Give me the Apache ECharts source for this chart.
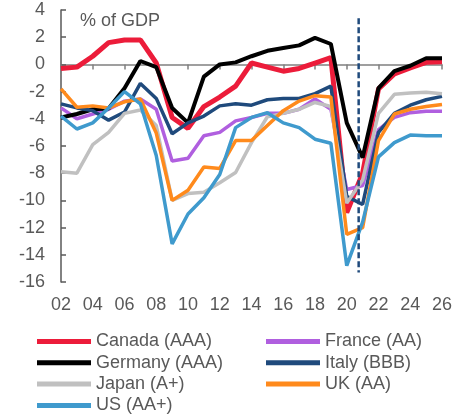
<!DOCTYPE html>
<html>
<head>
<meta charset="utf-8">
<script src="https://cdn.jsdelivr.net/npm/echarts@6/dist/echarts.min.js"></script>
<style>
  html, body { margin: 0; padding: 0; background: #ffffff; }
  #chart { width: 468px; height: 417px; }
</style>
</head>
<body>
<div id="chart"></div>
<script>
// General government balance, % of GDP (2002-2026)
const years = [2002, 2003, 2004, 2005, 2006, 2007, 2008, 2009, 2010, 2011, 2012, 2013,
               2014, 2015, 2016, 2017, 2018, 2019, 2020, 2021, 2022, 2023, 2024, 2025, 2026];

const canada  = [-0.3, -0.2, 0.6, 1.6, 1.8, 1.8, 0.1, -3.9, -4.7, -3.1, -2.4, -1.6,
                 0.1, -0.2, -0.5, -0.3, 0.1, 0.5, -10.9, -8.0, -1.8, -0.7, -0.25, 0.15, 0.2];
const france  = [-3.2, -4.0, -3.65, -3.3, -2.7, -2.55, -3.3, -7.1, -6.9, -5.25, -5.0, -4.15,
                 -3.9, -3.6, -3.6, -3.3, -2.55, -3.3, -9.2, -8.9, -4.8, -3.9, -3.55, -3.45, -3.45];
const germany = [-3.9, -3.65, -3.3, -3.25, -1.75, 0.25, -0.2, -3.2, -4.3, -0.9, 0.0, 0.15,
                 0.6, 1.0, 1.2, 1.4, 1.95, 1.5, -4.3, -6.85, -1.75, -0.5, -0.1, 0.45, 0.45];
const italy   = [-2.9, -3.2, -3.4, -4.1, -3.5, -1.4, -2.5, -5.1, -4.3, -3.8, -3.05, -2.9,
                 -3.0, -2.6, -2.5, -2.5, -2.15, -1.6, -9.7, -10.3, -5.0, -3.6, -3.0, -2.6, -2.35];
const japan   = [-7.9, -8.0, -5.9, -5.0, -3.6, -3.35, -4.5, -10.0, -9.5, -9.4, -8.7, -7.95,
                 -5.75, -3.85, -3.6, -3.3, -2.8, -3.1, -10.2, -8.5, -3.6, -2.2, -2.1, -2.05, -2.15];
const uk      = [-1.8, -3.15, -3.05, -3.2, -2.75, -2.55, -5.05, -10.0, -9.25, -7.55, -7.65, -5.6,
                 -5.6, -4.5, -3.4, -2.7, -2.3, -2.4, -12.5, -12.0, -5.6, -3.65, -3.3, -3.1, -2.95];
const us      = [-3.8, -4.75, -4.3, -3.2, -2.0, -2.9, -6.7, -13.2, -11.0, -9.8, -8.1, -4.65,
                 -3.9, -3.55, -4.3, -4.65, -5.5, -5.8, -14.8, -11.6, -6.8, -5.75, -5.2, -5.25, -5.25];

// Projection marker: vertical dashed line
const projectionYear = 2020.75;
const projectionSpan = [3.4, -15.3];

// Axis ranges
const xMin = 2002, xMax = 2026, xStep = 2;
const yMin = -16, yMax = 4, yStep = 2;

const FONT = "'Liberation Sans', Arial, sans-serif";
const TEXT = '#595959';

const seriesDefs = [
  { name: 'Canada (AAA)',  values: canada,  color: '#EC1C3A', width: 5 },
  { name: 'France (AA)',   values: france,  color: '#B05FDF', width: 3.5 },
  { name: 'Germany (AAA)', values: germany, color: '#000000', width: 4 },
  { name: 'Italy (BBB)',   values: italy,   color: '#1F4A7C', width: 3.5 },
  { name: 'Japan (A+)',    values: japan,   color: '#C0C0C0', width: 3.5 },
  { name: 'UK (AA)',       values: uk,      color: '#FF8A1C', width: 3.5 },
  { name: 'US (AA+)',      values: us,      color: '#3F9ACD', width: 3.5 }
];

const lineSeries = seriesDefs.map(d => ({
  name: d.name,
  type: 'line',
  data: years.map((y, i) => [y, d.values[i]]),
  symbol: 'none',
  lineStyle: { color: d.color, width: d.width },
  itemStyle: { color: d.color },
  emphasis: { disabled: true },
  animation: false
}));

lineSeries.push({
  name: 'projection',
  type: 'line',
  data: projectionSpan.map(v => [projectionYear, v]),
  symbol: 'none',
  lineStyle: { color: '#1F4A7C', width: 2.5, type: [6, 3] },
  silent: true,
  animation: false
});

const legendCommon = {
  orient: 'vertical',
  top: 331,
  padding: 0,
  height: 86,
  itemWidth: 54,
  itemHeight: 5,
  itemGap: 0.3,
  icon: 'rect',
  selectedMode: false,
  textStyle: { fontFamily: FONT, fontSize: 18, color: TEXT, lineHeight: 21, padding: [0, 0, 0, 0] }
};

const chart = echarts.init(document.getElementById('chart'), null, { renderer: 'canvas' });
chart.setOption({
  animation: false,
  backgroundColor: '#ffffff',
  grid: { left: 61, right: 26, top: 10, bottom: 135 },
  graphic: [{
    type: 'text', left: 80, top: 12,
    style: { text: '% of GDP', font: '18px ' + FONT, fill: TEXT }
  }],
  legend: [
    Object.assign({}, legendCommon, { left: 37, data: ['Canada (AAA)', 'Germany (AAA)', 'Japan (A+)', 'US (AA+)'] }),
    Object.assign({}, legendCommon, { left: 266, data: ['France (AA)', 'Italy (BBB)', 'UK (AA)'] })
  ],
  xAxis: [
    {
      type: 'value', min: xMin, max: xMax, interval: xStep, position: 'bottom',
      axisLine: { show: false, onZero: false },
      axisTick: { show: false },
      splitLine: { show: false },
      axisLabel: {
        margin: 14, fontFamily: FONT, fontSize: 18, color: TEXT,
        formatter: v => String(v % 100).padStart(2, '0')
      }
    },
    {
      type: 'value', min: xMin, max: xMax, interval: xStep, position: 'bottom',
      axisLine: { show: true, onZero: true, lineStyle: { color: '#808080', width: 1.5 } },
      axisTick: { show: true, length: 5, lineStyle: { color: '#808080', width: 1.5 } },
      splitLine: { show: false },
      axisLabel: { show: false }
    }
  ],
  yAxis: {
    type: 'value', min: yMin, max: yMax, interval: yStep,
    axisLine: { show: true, onZero: false, lineStyle: { color: '#595959', width: 1.5 } },
    axisTick: { show: true, inside: true, length: 5, lineStyle: { color: '#595959', width: 1.5 } },
    splitLine: { show: false },
    axisLabel: { margin: 16, fontFamily: FONT, fontSize: 18, color: TEXT }
  },
  series: lineSeries
});
</script>
</body>
</html>
